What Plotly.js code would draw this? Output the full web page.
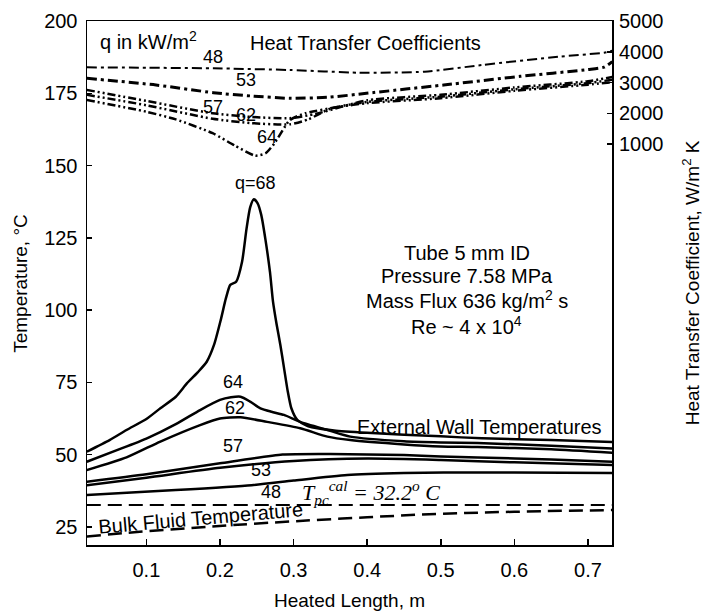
<!DOCTYPE html>
<html>
<head>
<meta charset="utf-8">
<script src="https://cdn.plot.ly/plotly-3.0.1.min.js"></script>
<style>html,body{margin:0;padding:0;background:#fff;}#chart{width:703px;height:612px;}</style>
</head>
<body>
<div id="chart"></div>
<script>
// ---- Wall temperatures (degC) vs heated length (m) ----
const q68_x = [0.019, 0.05, 0.073, 0.10, 0.119, 0.14, 0.155, 0.17, 0.182, 0.192, 0.201, 0.208, 0.214, 0.222, 0.230, 0.236, 0.241, 0.246, 0.251, 0.256, 0.262, 0.268, 0.272, 0.277, 0.282, 0.287, 0.292, 0.297, 0.305, 0.32, 0.355, 0.40, 0.50, 0.556, 0.65, 0.733];
const q68_T = [51.0, 55.0, 58.5, 62.3, 66.0, 70.0, 74.6, 78.5, 82.1, 88.0, 96.5, 104.0, 108.7, 109.8, 116.7, 128.0, 135.5, 138.3, 137.0, 133.0, 124.0, 113.0, 103.0, 95.0, 88.0, 80.0, 72.0, 66.0, 62.0, 59.8, 58.3, 57.5, 56.3, 55.6, 55.0, 54.3];
const q64_x = [0.019, 0.06, 0.10, 0.14, 0.173, 0.20, 0.215, 0.228, 0.241, 0.255, 0.27, 0.287, 0.309, 0.346, 0.377, 0.45, 0.50, 0.55, 0.65, 0.733];
const q64_T = [47.5, 51.5, 55.5, 60.5, 65.4, 68.9, 69.8, 70.0, 68.3, 66.0, 64.8, 63.7, 61.3, 58.5, 56.2, 54.6, 54.2, 54.0, 53.0, 52.1];
const q62_x = [0.019, 0.073, 0.119, 0.173, 0.20, 0.228, 0.264, 0.309, 0.346, 0.377, 0.45, 0.50, 0.55, 0.65, 0.733];
const q62_T = [44.6, 49.0, 54.5, 60.2, 62.5, 62.9, 61.3, 59.1, 56.2, 55.0, 53.5, 52.8, 52.6, 51.8, 50.6];
const q57_x = [0.019, 0.10, 0.20, 0.285, 0.35, 0.45, 0.50, 0.55, 0.65, 0.733];
const q57_T = [40.6, 43.2, 47.0, 50.0, 50.2, 49.8, 49.3, 49.0, 48.3, 47.5];
const q53_x = [0.019, 0.10, 0.20, 0.30, 0.40, 0.50, 0.60, 0.733];
const q53_T = [39.4, 42.0, 45.4, 47.8, 48.6, 48.1, 47.3, 46.4];
const q48_x = [0.019, 0.14, 0.243, 0.30, 0.373, 0.45, 0.504, 0.60, 0.733];
const q48_T = [36.0, 37.7, 39.4, 41.0, 42.9, 43.6, 43.8, 43.8, 43.6];
const tpc_x = [0.019, 0.733];
const tpc_T = [32.5, 32.5];
const bulk_x = [0.019, 0.091, 0.159, 0.218, 0.30, 0.40, 0.50, 0.60, 0.733];
const bulk_T = [21.6, 23.3, 24.5, 25.6, 26.9, 28.3, 29.5, 30.2, 30.8];

// ---- Heat transfer coefficients (W/m2 K) ----
const h48_x = [0.019, 0.10, 0.191, 0.295, 0.389, 0.478, 0.556, 0.66, 0.722, 0.733];
const h48_h = [3494, 3480, 3462, 3407, 3319, 3352, 3569, 3839, 3970, 4034];
const h53_x = [0.019, 0.113, 0.191, 0.243, 0.295, 0.347, 0.399, 0.504, 0.608, 0.70, 0.722, 0.733];
const h53_h = [3136, 2919, 2668, 2561, 2486, 2519, 2649, 2919, 3200, 3420, 3500, 3680];
const h57_x = [0.019, 0.10, 0.19, 0.243, 0.295, 0.33, 0.40, 0.50, 0.60, 0.70, 0.733];
const h57_h = [2760, 2400, 2000, 1880, 1840, 1980, 2420, 2600, 2840, 3040, 3180];
const h62_x = [0.019, 0.10, 0.19, 0.243, 0.295, 0.32, 0.35, 0.40, 0.50, 0.60, 0.70, 0.733];
const h62_h = [2600, 2260, 1820, 1680, 1640, 1800, 2150, 2370, 2540, 2780, 2980, 3090];
const h64_x = [0.019, 0.10, 0.14, 0.19, 0.22, 0.248, 0.262, 0.274, 0.295, 0.316, 0.36, 0.40, 0.50, 0.60, 0.70, 0.733];
const h64_h = [2430, 2050, 1800, 1350, 950, 620, 700, 1020, 1780, 2000, 2200, 2330, 2490, 2730, 2930, 3010];

// ---- axes ----
const xTicks = [0.1, 0.2, 0.3, 0.4, 0.5, 0.6, 0.7];
const xTickText = ['0.1', '0.2', '0.3', '0.4', '0.5', '0.6', '0.7'];
const yTicks = [25, 50, 75, 100, 125, 150, 175, 200];
const y2Ticks = [1000, 2000, 3000, 4000, 5000];

const FONT = 'Liberation Sans, Arial, sans-serif';
function solid(x, y) {
  return {x: x, y: y, type: 'scatter', mode: 'lines', line: {color: '#000', width: 2.5, shape: 'spline', smoothing: 0.6}, hoverinfo: 'skip', showlegend: false};
}
function htc(x, y, dash, w) {
  return {x: x, y: y, yaxis: 'y2', type: 'scatter', mode: 'lines', line: {color: '#000', width: w, dash: dash, shape: 'spline', smoothing: 0.6}, hoverinfo: 'skip', showlegend: false};
}
const traces = [
  solid(q68_x, q68_T), solid(q64_x, q64_T), solid(q62_x, q62_T),
  solid(q57_x, q57_T), solid(q53_x, q53_T), solid(q48_x, q48_T),
  {x: tpc_x, y: tpc_T, type: 'scatter', mode: 'lines', line: {color: '#000', width: 2, dash: '14px,7px'}, hoverinfo: 'skip', showlegend: false},
  {x: bulk_x, y: bulk_T, type: 'scatter', mode: 'lines', line: {color: '#000', width: 2.5, dash: '14px,7px', shape: 'spline'}, hoverinfo: 'skip', showlegend: false},
  htc(h48_x, h48_h, '10px,4px,3px,4px', 2),
  htc(h53_x, h53_h, '10px,4px,3px,4px', 3),
  htc(h57_x, h57_h, '8px,3px,2px,3px,2px,3px', 2.5),
  htc(h62_x, h62_h, '8px,3px,2px,3px,2px,3px', 2.5),
  htc(h64_x, h64_h, '8px,3px,2px,3px,2px,3px', 2.5)
];

const F20 = {family: FONT, size: 20, color: '#000'};
function lab(x, y, text, opts) {
  return Object.assign({x: x, y: y, xref: 'x', yref: 'y', xanchor: 'center', yanchor: 'middle', text: text, showarrow: false, font: {family: FONT, size: 18, color: '#000'}}, opts || {});
}
const annotations = [
  lab(0.034, 193.4, 'q in kW/m<sup>2</sup>', {xanchor: 'left', font: F20}),
  lab(0.398, 192.3, 'Heat Transfer Coefficients', {font: F20}),
  lab(0.191, 187.6, '48'), lab(0.235, 179.6, '53'), lab(0.191, 170.3, '57'),
  lab(0.235, 167.5, '62'), lab(0.264, 160.0, '64'),
  lab(0.248, 144.0, 'q=68'),
  lab(0.535, 119.8, 'Tube 5 mm ID', {font: F20}),
  lab(0.535, 111.8, 'Pressure 7.58 MPa', {font: F20}),
  lab(0.535, 103.5, 'Mass Flux 636 kg/m<sup>2</sup> s', {font: F20}),
  lab(0.535, 94.8, 'Re ~ 4 x 10<sup>4</sup>', {font: F20}),
  lab(0.218, 75.2, '64'), lab(0.221, 66.0, '62'), lab(0.218, 52.9, '57'),
  lab(0.256, 44.6, '53'), lab(0.269, 37.1, '48'),
  lab(0.553, 59.6, 'External Wall Temperatures', {font: F20}),
  lab(0.173, 28.2, 'Bulk Fluid Temperature', {textangle: -5, font: F20}),
  lab(0.405, 36.9, '<i>T<sub>pc</sub><sup>cal</sup> = 32.2<sup>o</sup> C</i>', {font: {family: 'Liberation Serif, Times New Roman, serif', size: 22, color: '#000'}}),
  {x: -0.128, y: 0.5, xref: 'paper', yref: 'paper', xanchor: 'center', yanchor: 'middle', text: 'Temperature, °C', textangle: -90, showarrow: false, font: {family: FONT, size: 19, color: '#000'}},
  {x: 1.151, y: 0.5, xref: 'paper', yref: 'paper', xanchor: 'center', yanchor: 'middle', text: 'Heat Transfer Coefficient, W/m<sup>2</sup> K', textangle: -90, showarrow: false, font: {family: FONT, size: 19, color: '#000'}},
  {x: 0.5, y: -0.105, xref: 'paper', yref: 'paper', xanchor: 'center', yanchor: 'middle', text: 'Heated Length, m', showarrow: false, font: {family: FONT, size: 19, color: '#000'}}
];

const TF = {family: FONT, size: 20, color: '#000'};
const layout = {
  width: 703, height: 612,
  margin: {l: 87, r: 91, t: 21, b: 67, pad: 0},
  paper_bgcolor: '#fff', plot_bgcolor: '#fff',
  showlegend: false,
  font: {family: FONT, size: 18, color: '#000'},
  xaxis: {range: [0.0193, 0.7327], tickvals: xTicks, ticktext: xTickText, ticks: 'inside', ticklen: 6, tickwidth: 1.5, tickcolor: '#000',
          showline: true, linecolor: '#000', linewidth: 1.5, mirror: true, showgrid: false, zeroline: false,
          tickfont: TF, ticklabelstandoff: 6},
  yaxis: {range: [18.7, 200], tickvals: yTicks, ticks: 'inside', ticklen: 5, tickwidth: 1.5, tickcolor: '#000',
          showline: true, linecolor: '#000', linewidth: 1.5, mirror: true, showgrid: false, zeroline: false,
          tickfont: TF, ticklabelstandoff: 4},
  yaxis2: {overlaying: 'y', side: 'right', range: [-12040, 5000], tickvals: y2Ticks, ticks: 'inside', ticklen: 5, tickwidth: 1.5, tickcolor: '#000',
           showline: false, showgrid: false, zeroline: false,
           tickfont: TF, ticklabelstandoff: 6},
  annotations: annotations
};

Plotly.newPlot('chart', traces, layout, {staticPlot: true, displayModeBar: false});
</script>
</body>
</html>
